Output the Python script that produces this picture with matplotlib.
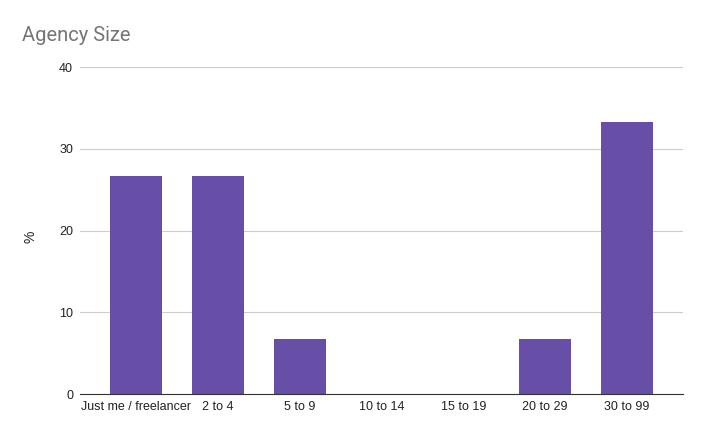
import matplotlib
matplotlib.use("Agg")
import matplotlib.pyplot as plt

categorie = ["Just me / freelancer", "2 to 4", "5 to 9", "10 to 14", "15 to 19", "20 to 29", "30 to 99"]
percentuali = [26.67, 26.67, 6.67, 0, 0, 6.67, 33.33]
y_ticks = [0, 10, 20, 30, 40]

plt.rcParams['font.family'] = ['Liberation Sans', 'DejaVu Sans']

fig = plt.figure(figsize=(7.04, 4.36), dpi=100)
ax = fig.add_axes([0.1136, 0.0963, 0.857, 0.75])

ax.bar(range(len(categorie)), percentuali, width=0.636, color="#674ea7", zorder=3)
ax.set_xlim(-0.685, 6.69)
ax.set_ylim(0, 40)
ax.set_yticks(y_ticks)
ax.set_xticks(range(len(categorie)))
ax.set_xticklabels(categorie)
ax.tick_params(axis="both", length=0, labelsize=9, colors="#222222")
ax.tick_params(axis="y", pad=5)
ax.tick_params(axis="x", pad=5)
ax.grid(axis="y", color="#cccccc", linewidth=0.8, zorder=0)
for s in ["top", "right", "left"]:
    ax.spines[s].set_visible(False)
ax.spines["bottom"].set_color("#333333")
ax.spines["bottom"].set_zorder(4)

# etichetta asse y
fig.text(0.043, 0.456, "%", fontsize=10, color="#222222", rotation=90, ha="center", va="center")

fig.text(0.031, 0.905, "Agency Size", fontsize=14.5, color="#757575", family="Roboto", va="baseline")

fig.savefig("out.png", dpi=100)
